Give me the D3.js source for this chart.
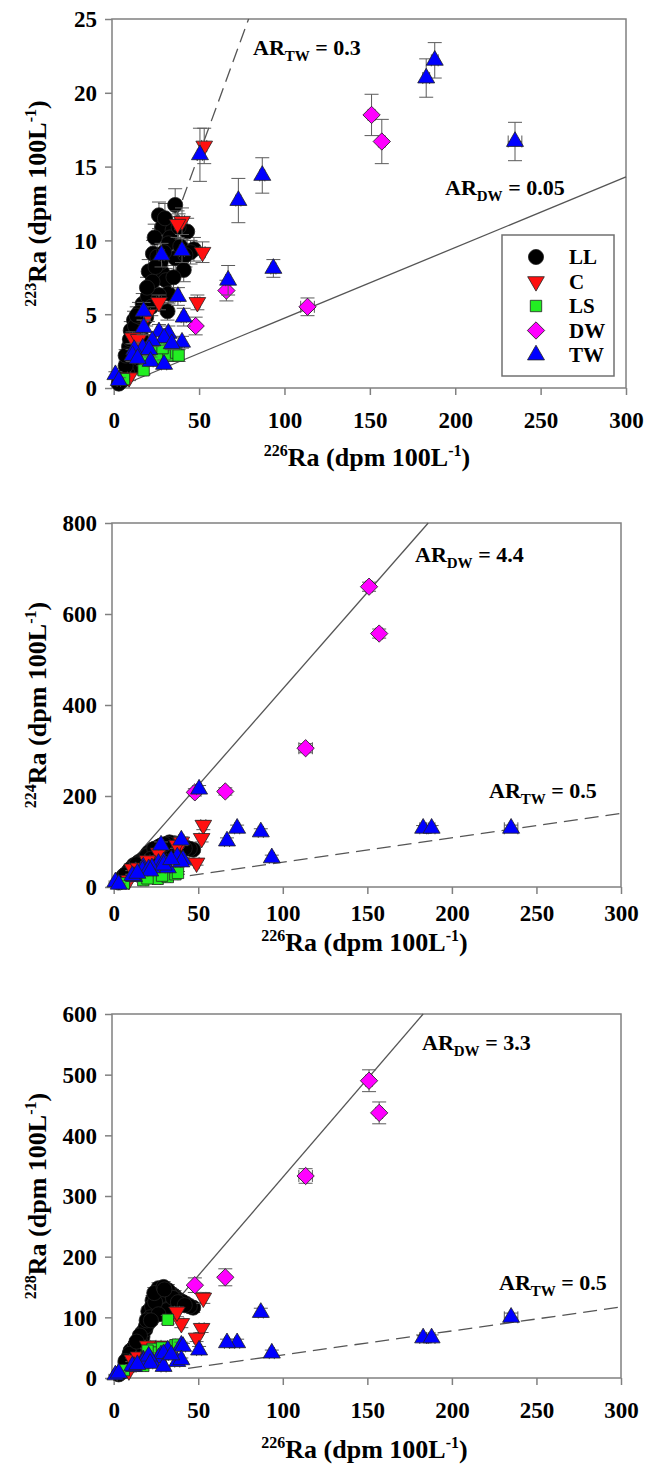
<!DOCTYPE html>
<html>
<head>
<meta charset="utf-8">
<script src="https://cdn.jsdelivr.net/npm/d3@7"></script>
<style>
  body { margin: 0; background: #fff; }
  text { font-family: "Liberation Serif", "Times New Roman", serif; font-weight: bold; fill: #000; white-space: pre; }
</style>
</head>
<body>
<svg id="chart" width="646" height="1468"></svg>
<script>
// row columns: 226Ra, err, 223Ra, err, 224Ra, err, 228Ra, err  (dpm 100L-1)
const LL = [
  [36, 1.5, 12.4, 1.1, 96, 8, 135, 9],
  [26.5, 1.5, 11.7, 0.9, 88, 7, 148, 9],
  [28.5, 1.5, 10.9, 0.9, 92, 7, 145, 9],
  [34.5, 1.5, 10.7, 0.9, 90, 7, 138, 8],
  [43, 1.5, 10.6, 0.9, 86, 7, 122, 8],
  [33, 1.5, 10.2, 0.9, 98, 8, 140, 9],
  [47, 1.5, 9.4, 0.8, 82, 6, 116, 8],
  [23, 1.5, 9.1, 0.9, 82, 6, 128, 8],
  [25.5, 1.5, 8.9, 0.8, 85, 7, 132, 8],
  [36, 1.5, 8.8, 0.9, 85, 7, 130, 8],
  [20.5, 1.5, 7.9, 0.8, 75, 6, 110, 7],
  [28.5, 1.5, 7.8, 0.8, 80, 6, 120, 8],
  [30.5, 1.5, 7.3, 0.8, 86, 7, 142, 9],
  [22.7, 1.5, 7.2, 0.7, 78, 6, 118, 8],
  [32, 1.5, 6.4, 0.7, 78, 6, 125, 8],
  [21.6, 1.5, 6.3, 0.7, 65, 5, 100, 7],
  [31.5, 1.5, 5.2, 0.6, 70, 6, 112, 7],
  [17, 1.5, 5.7, 0.7, 60, 5, 75, 6],
  [14.8, 1.5, 5.1, 0.7, 55, 5, 62, 5],
  [11.9, 1.5, 4.6, 0.6, 48, 4, 50, 5],
  [10, 1.5, 3.9, 0.6, 40, 4, 45, 4],
  [13, 1.5, 3.7, 0.6, 45, 4, 55, 5],
  [9, 1.5, 2.8, 0.5, 35, 3, 35, 4],
  [10, 1.5, 2.1, 0.5, 32, 3, 30, 3],
  [11, 1.5, 1.4, 0.4, 28, 3, 22, 3],
  [8, 1.5, 1.0, 0.3, 30, 3, 18, 3],
  [17, 1.5, 4.5, 0.6, 52, 5, 68, 6],
  [20, 1.5, 6.2, 0.7, 70, 6, 90, 7],
  [16, 1.5, 3.5, 0.5, 50, 4, 58, 5],
  [27.5, 1.5, 8.5, 0.8, 90, 7, 135, 9],
  [32, 1.5, 9.8, 0.9, 95, 8, 145, 9],
  [39, 1.5, 9.6, 0.9, 88, 7, 128, 8],
  [18.7, 1.5, 5.1, 0.6, 62, 5, 80, 6],
  [24.5, 1.5, 8.2, 0.8, 80, 6, 125, 8],
  [26.5, 1.5, 6.3, 0.7, 72, 6, 105, 7],
  [41, 1.5, 8.0, 0.8, 82, 7, 125, 8],
  [45, 1.5, 9.2, 0.8, 84, 7, 118, 8],
  [5, 1.0, 0.5, 0.2, 20, 2, 10, 2],
  [6, 1.0, 0.8, 0.3, 25, 2, 14, 2],
  [14, 1.5, 2.5, 0.5, 42, 4, 40, 4],
  [3, 1.0, 0.3, 0.2, 10, 2, 6, 2],
  [7, 1.0, 1.5, 0.4, 22, 2, 25, 3],
  [19, 1.5, 4.8, 0.6, 58, 5, 85, 6],
  [12.5, 1.5, 4.2, 0.6, 44, 4, 52, 5],
  [15.5, 1.5, 4.8, 0.6, 54, 5, 70, 6],
  [19.5, 1.5, 6.8, 0.7, 68, 6, 95, 7],
  [24, 1.5, 10.2, 0.9, 84, 7, 140, 9],
  [29.5, 1.5, 9.2, 0.9, 88, 7, 150, 9],
  [35, 1.5, 7.5, 0.8, 82, 7, 132, 8],
  [38, 1.5, 10.9, 0.9, 92, 8, 125, 8],
  [42, 1.5, 9.0, 0.8, 85, 7, 120, 8],
  [9.5, 1.5, 3.3, 0.5, 38, 3, 40, 4],
  [13.5, 1.5, 4.9, 0.6, 50, 4, 60, 5],
  [22, 1.5, 5.5, 0.6, 62, 5, 95, 7],
  [30, 1.5, 11.5, 1.0, 94, 8, 146, 9],
  [7, 1.0, 2.2, 0.4, 28, 3, 28, 3]
];
const C = [
  [53, 1.5, 16.4, 1.2, 136, 10, 132, 9],
  [40, 1.5, 11.3, 0.9, 99, 8, 90, 7],
  [37.4, 1.5, 11.1, 0.9, 92, 7, 109, 8],
  [52, 1.5, 9.2, 0.7, 107, 8, 82, 7],
  [49, 1.5, 5.8, 0.5, 53, 5, 66, 6],
  [26.5, 1.5, 5.8, 0.5, 75, 6, 53, 5],
  [20, 1.5, 5.0, 0.5, 58, 5, 53, 5],
  [11, 1.5, 3.4, 0.4, 40, 4, 30, 3],
  [14.6, 1.5, 3.3, 0.4, 42, 4, 35, 4],
  [9, 1.0, 0.7, 0.2, 15, 2, 12, 2]
];
const LS = [
  [17.5, 1.5, 1.2, 0.3, 15, 2, 20, 3],
  [23, 1.5, 2.5, 0.4, 22, 3, 48, 5],
  [26, 1.5, 2.0, 0.4, 18, 2, 42, 4],
  [32, 1.5, 2.2, 0.4, 22, 3, 96, 7],
  [36.5, 1.5, 2.4, 0.4, 28, 3, 54, 5],
  [38, 1.5, 2.2, 0.4, 31, 3, 55, 5],
  [28.6, 1.5, 2.7, 0.4, 25, 3, 50, 5],
  [6, 1.0, 0.6, 0.2, 8, 2, 13, 2],
  [20, 1.5, 2.2, 0.4, 19, 2, 45, 4]
];
const DW = [
  [48, 1.5, 4.2, 0.6, 208, 8, 153, 12],
  [66, 1.5, 6.6, 0.7, 210, 8, 166, 14],
  [113.5, 4, 5.5, 0.6, 305, 10, 333, 12],
  [151, 2, 18.5, 1.4, 660, 10, 490, 18],
  [157, 2, 16.7, 1.5, 557, 10, 437, 18]
];
const TW = [
  [50.5, 1.5, 15.8, 1.8, 215, 8, 46, 6],
  [73, 1.5, 12.7, 1.5, 129, 7, 58, 6],
  [87, 1.5, 14.4, 1.2, 121, 7, 108, 7],
  [93.5, 1.5, 8.1, 0.6, 64, 6, 41, 5],
  [67, 1.5, 7.3, 1.0, 101, 7, 58, 6],
  [183, 2, 21.0, 1.3, 129, 6, 66, 5],
  [188, 2, 22.2, 1.2, 129, 6, 66, 5],
  [235, 4, 16.7, 1.3, 129, 7, 100, 7],
  [28, 1.5, 9.0, 0.8, 92, 7, 38, 4],
  [40, 1.5, 9.3, 0.8, 103, 7, 54, 5],
  [37.6, 1.5, 6.2, 0.6, 66, 5, 27, 3],
  [41, 1.5, 4.8, 0.6, 60, 5, 52, 5],
  [40, 1.5, 3.1, 0.4, 55, 4, 30, 3],
  [17.5, 1.5, 5.2, 0.6, 44, 4, 30, 3],
  [17.5, 1.5, 4.1, 0.5, 38, 4, 28, 3],
  [26.5, 1.5, 3.8, 0.5, 52, 4, 33, 3],
  [32, 1.5, 3.7, 0.5, 42, 4, 46, 4],
  [29.5, 1.5, 3.4, 0.5, 55, 4, 40, 4],
  [22.6, 1.5, 3.2, 0.4, 42, 4, 27, 3],
  [17, 1.5, 2.7, 0.4, 36, 3, 25, 3],
  [12, 1.5, 2.6, 0.4, 23, 3, 19, 2],
  [20.7, 1.5, 2.6, 0.4, 40, 4, 36, 3],
  [11, 1.5, 2.2, 0.4, 25, 3, 20, 2],
  [21.6, 1.5, 1.8, 0.3, 35, 3, 24, 3],
  [29.5, 1.5, 1.6, 0.3, 48, 4, 19, 2],
  [1, 1.0, 0.9, 0.2, 11, 2, 5, 1],
  [3, 1.0, 0.5, 0.2, 6, 2, 8, 1],
  [14, 1.5, 2.0, 0.3, 30, 3, 22, 2],
  [34, 1.5, 3.0, 0.4, 60, 5, 38, 4]
];

// activity-ratio lines, end points [226Ra, RaXXX]
const arTW223 = [[36, 11.4], [79, 25]];
const arDW223 = [[1, 0], [300, 14.3]];
const arDW224 = [[2, 20], [186, 800]];
const arTW224 = [[45, 25], [300, 162]];
const arDW228 = [[2, 13], [183, 600]];
const arTW228 = [[44, 16], [300, 117]];

const xTicks = [0, 50, 100, 150, 200, 250, 300];
const yTicks223 = [0, 5, 10, 15, 20, 25];
const yTicks224 = [0, 200, 400, 600, 800];
const yTicks228 = [0, 100, 200, 300, 400, 500, 600];

const groupNames = ['LL', 'C', 'LS', 'DW', 'TW'];
const groupRows = { LL, C, LS, DW, TW };

const style = {
  LL: { shape: d3.symbolCircle, size: 180, rot: 0, fill: '#000000' },
  C:  { shape: d3.symbolTriangle, size: 120, rot: 180, fill: '#ff1010' },
  LS: { shape: d3.symbolSquare, size: 130, rot: 0, fill: '#22ee22' },
  DW: { shape: d3.symbolSquare, size: 150, rot: 45, fill: '#ff00ff' },
  TW: { shape: d3.symbolTriangle, size: 125, rot: 0, fill: '#0000ff' }
};

const panels = [
  { iso: '223', col: 2, top: 19, bottom: 388, left: 112, right: 626, yMax: 25, yTicks: yTicks223,
    lines: [{ pts: arTW223, dash: '14,7' }, { pts: arDW223, dash: null }],
    labels: [{ x: 253, y: 55, sub: 'TW', val: '0.3' }, { x: 445, y: 195, sub: 'DW', val: '0.05' }],
    legend: true, xLabelGap: 40, xTitleGap: 78 },
  { iso: '224', col: 4, top: 523, bottom: 887, left: 112, right: 621, yMax: 800, yTicks: yTicks224,
    lines: [{ pts: arDW224, dash: null }, { pts: arTW224, dash: '14,7' }],
    labels: [{ x: 415, y: 562, sub: 'DW', val: '4.4' }, { x: 489, y: 798, sub: 'TW', val: '0.5' }],
    legend: false, xLabelGap: 34, xTitleGap: 64 },
  { iso: '228', col: 6, top: 1014, bottom: 1378, left: 112, right: 621, yMax: 600, yTicks: yTicks228,
    lines: [{ pts: arDW228, dash: null }, { pts: arTW228, dash: '14,7' }],
    labels: [{ x: 422, y: 1050, sub: 'DW', val: '3.3' }, { x: 499, y: 1290, sub: 'TW', val: '0.5' }],
    legend: false, xLabelGap: 40, xTitleGap: 80 }
];

const svg = d3.select('#chart');
const gray = '#808080';

function raTitle(sel, iso) {
  sel.append('tspan').attr('font-size', 16).attr('dy', -10).text(iso);
  sel.append('tspan').attr('font-size', 26).attr('dy', 10).text('Ra (dpm 100L');
  sel.append('tspan').attr('font-size', 16).attr('dy', -10).text('-1');
  sel.append('tspan').attr('font-size', 26).attr('dy', 10).text(')');
}

function drawMarker(g, cx, cy, name) {
  const s = style[name];
  g.append('path')
    .attr('d', d3.symbol().type(s.shape).size(s.size)())
    .attr('transform', `translate(${cx},${cy}) rotate(${s.rot})`)
    .attr('fill', s.fill)
    .attr('stroke', '#222')
    .attr('stroke-width', 0.8);
}

panels.forEach(p => {
  const x = d3.scaleLinear().domain([-1, 300]).range([p.left, p.right]);
  const y = d3.scaleLinear().domain([0, p.yMax]).range([p.bottom, p.top]);
  const g = svg.append('g');

  // axes (ticks + labels)
  const xa = g.append('g').attr('transform', `translate(0,${p.bottom})`)
    .call(d3.axisBottom(x).tickValues(xTicks).tickSize(7).tickSizeOuter(0));
  const ya = g.append('g').attr('transform', `translate(${p.left},0)`)
    .call(d3.axisLeft(y).tickValues(p.yTicks).tickSize(7).tickSizeOuter(0));
  [xa, ya].forEach(a => {
    a.attr('font-family', null);
    a.select('.domain').remove();
    a.selectAll('line').attr('stroke', gray).attr('stroke-width', 1.5);
    a.selectAll('text').attr('font-size', 23);
  });
  xa.selectAll('text').attr('y', p.xLabelGap).attr('dy', 0);
  ya.selectAll('text').attr('x', -15).attr('dy', '0.34em');

  // frame
  g.append('rect')
    .attr('x', p.left).attr('y', p.top)
    .attr('width', p.right - p.left).attr('height', p.bottom - p.top)
    .attr('fill', 'none').attr('stroke', gray).attr('stroke-width', 1.5);

  // axis titles
  raTitle(g.append('text').attr('x', (p.left + p.right) / 2 - 2).attr('y', p.bottom + p.xTitleGap)
    .attr('text-anchor', 'middle'), '226');
  const cy = (p.top + p.bottom) / 2;
  raTitle(g.append('text').attr('transform', `translate(46,${cy}) rotate(-90)`)
    .attr('text-anchor', 'middle'), p.iso);

  // ratio lines
  p.lines.forEach(l => {
    g.append('line')
      .attr('x1', x(l.pts[0][0])).attr('y1', y(l.pts[0][1]))
      .attr('x2', x(l.pts[1][0])).attr('y2', y(l.pts[1][1]))
      .attr('stroke', '#555').attr('stroke-width', 1.3)
      .attr('stroke-dasharray', l.dash);
  });

  // data: error bars then markers, group by group
  groupNames.forEach(name => {
    const gg = g.append('g');
    groupRows[name].forEach(r => {
      const px = x(r[0]), py = y(r[p.col]);
      const ex = r[1], ey = r[p.col + 1];
      const eb = gg.append('g').attr('stroke', '#5a5a5a').attr('stroke-width', 1);
      eb.append('line').attr('x1', px).attr('x2', px).attr('y1', y(r[p.col] - ey)).attr('y2', y(r[p.col] + ey));
      [r[p.col] - ey, r[p.col] + ey].forEach(v =>
        eb.append('line').attr('x1', px - 7).attr('x2', px + 7).attr('y1', y(v)).attr('y2', y(v)));
      eb.append('line').attr('y1', py).attr('y2', py).attr('x1', x(r[0] - ex)).attr('x2', x(r[0] + ex));
      [r[0] - ex, r[0] + ex].forEach(v =>
        eb.append('line').attr('y1', py - 6).attr('y2', py + 6).attr('x1', x(v)).attr('x2', x(v)));
    });
    groupRows[name].forEach(r => drawMarker(gg, x(r[0]), y(r[p.col]), name));
  });

  // ratio labels
  p.labels.forEach(lb => {
    const t = g.append('text').attr('x', lb.x).attr('y', lb.y).attr('font-size', 22);
    t.append('tspan').text('AR');
    t.append('tspan').attr('font-size', 15).attr('dy', 6).text(lb.sub);
    t.append('tspan').attr('dy', -6).text(' = ' + lb.val);
  });

  // legend
  if (p.legend) {
    const lg = g.append('g');
    lg.append('rect').attr('x', 502).attr('y', 235).attr('width', 112).attr('height', 141)
      .attr('fill', '#fff').attr('stroke', '#707070').attr('stroke-width', 1.5);
    groupNames.forEach((name, i) => {
      const yy = 257 + i * 24.5;
      drawMarker(lg, 536, yy, name);
      lg.append('text').attr('x', 569).attr('y', yy + 7).attr('font-size', 21).text(name);
    });
  }
});
</script>
</body>
</html>
